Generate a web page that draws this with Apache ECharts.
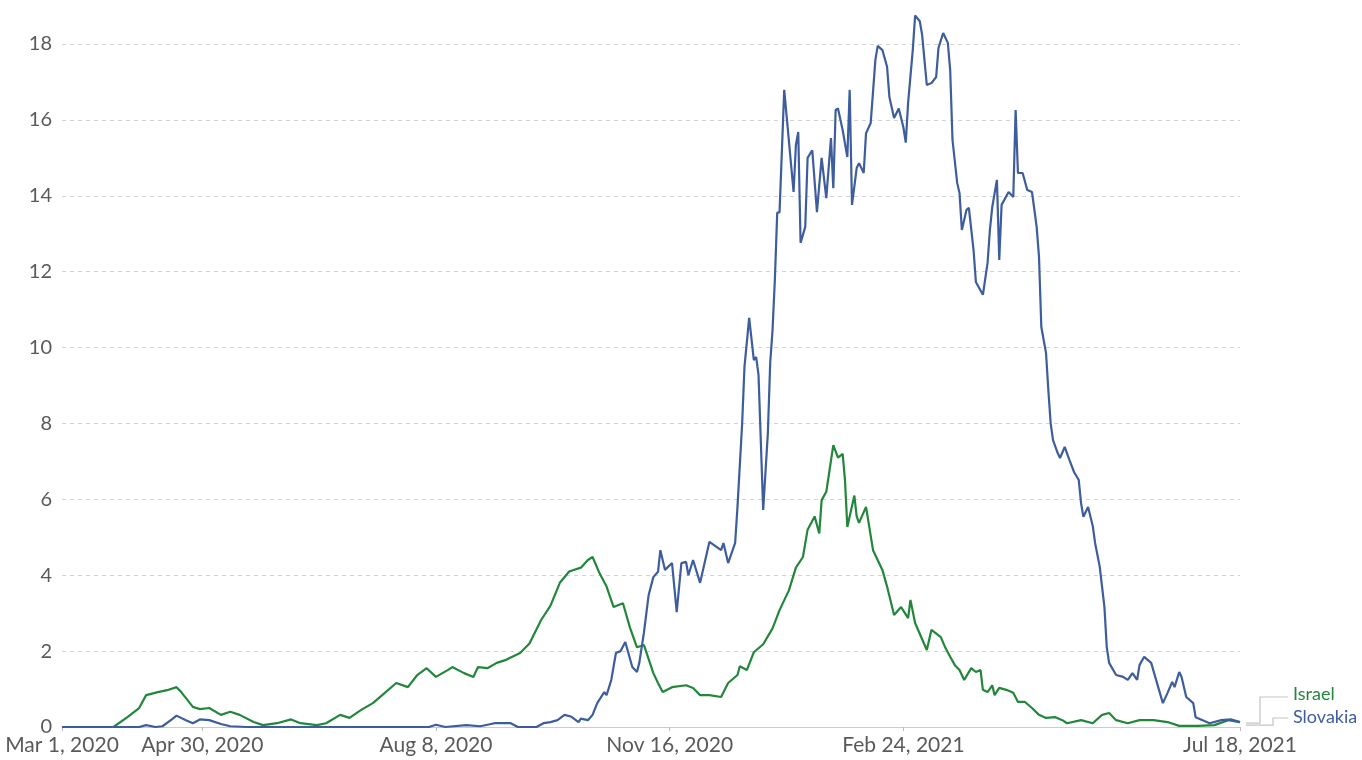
<!DOCTYPE html>
<html lang="en">
<head>
    <meta charset="UTF-8">
    <title>Israel vs Slovakia</title>
    <script src="https://cdn.jsdelivr.net/npm/echarts@6.0.0/dist/echarts.min.js"></script>
    <style>
        html, body { margin: 0; padding: 0; background: #fff; }
        #main { width: 1362px; height: 760px; }
    </style>
</head>
<body>
    <div id="main"></div>
    <script type="text/javascript">
        // days counted from Mar 1, 2020
        const israelDays = [0, 22, 28, 33, 36, 41, 45, 49, 51, 56, 59, 63, 68, 72, 76, 82, 86, 92, 98, 102,
            109, 113, 119, 123, 128, 133, 137, 143, 148, 152, 156, 160, 165, 167, 172, 176, 178, 182, 186, 190,
            196, 200, 205, 209, 213, 217, 222, 225, 227, 230, 233, 236, 240, 243, 246, 249, 253, 255, 257, 261,
            267, 270, 273, 277, 282, 285, 289, 290, 293, 296, 300, 304, 307, 311, 314, 317, 319, 322, 324, 325,
            327, 330, 332, 334, 335, 336, 339, 340, 341, 344, 347, 351, 353, 356, 359, 362, 363, 365, 370, 372,
            376, 378, 380, 382, 384, 386, 389, 391, 393, 394, 396, 398, 399, 401, 404, 407, 409, 412, 415, 418,
            421, 425, 428, 430, 436, 441, 445, 448, 451, 456, 461, 467, 473, 478, 486, 493, 499, 504];
        const israelValues = [0, 0, 0.26, 0.5, 0.84, 0.92, 0.97, 1.05, 0.92, 0.53, 0.47, 0.5, 0.32, 0.4, 0.32, 0.13, 0.05, 0.1, 0.2, 0.1,
            0.05, 0.1, 0.32, 0.24, 0.45, 0.63, 0.84, 1.16, 1.05, 1.37, 1.55, 1.32, 1.5, 1.58, 1.42, 1.32, 1.58, 1.55, 1.69, 1.77,
            1.95, 2.2, 2.82, 3.2, 3.8, 4.1, 4.2, 4.4, 4.48, 4.05, 3.7, 3.16, 3.26, 2.62, 2.1, 2.16, 1.42, 1.16, 0.92, 1.05,
            1.1, 1.03, 0.84, 0.84, 0.79, 1.16, 1.37, 1.6, 1.5, 1.97, 2.18, 2.6, 3.08, 3.6, 4.2, 4.48, 5.2, 5.55, 5.1, 5.98,
            6.2, 7.43, 7.1, 7.2, 6.5, 5.27, 6.1, 5.55, 5.38, 5.8, 4.66, 4.14, 3.7, 2.95, 3.16, 2.87, 3.35, 2.74, 2.03, 2.56,
            2.37, 2.08, 1.85, 1.63, 1.5, 1.24, 1.55, 1.45, 1.5, 0.98, 0.92, 1.1, 0.84, 1.03, 0.98, 0.9, 0.66, 0.66, 0.5, 0.32,
            0.24, 0.26, 0.18, 0.1, 0.18, 0.1, 0.32, 0.37, 0.18, 0.1, 0.18, 0.18, 0.13, 0.03, 0.03, 0.05, 0.18, 0.13];

        const slovakiaDays = [0, 33, 36, 40, 43, 47, 49, 53, 56, 59, 63, 68, 72, 79, 157, 160, 164, 173, 179, 185,
            192, 195, 203, 206, 209, 212, 215, 218, 221, 222, 225, 227, 229, 232, 233, 235, 237, 239, 241, 244,
            246, 247, 249, 251, 253, 255, 256, 258, 261, 263, 265, 267, 268, 270, 273, 277, 282, 283, 285, 288,
            289, 291, 292, 294, 296, 297, 298, 300, 302, 303, 304, 305, 306, 307, 309, 313, 314, 315, 316, 318,
            319, 321, 323, 325, 327, 329, 330, 331, 332, 334, 336, 337, 338, 340, 341, 343, 344, 346, 348, 349,
            351, 353, 354, 356, 358, 360, 361, 362, 364, 365, 367, 368, 370, 372, 374, 375, 377, 379, 380, 381,
            383, 384, 385, 387, 388, 390, 391, 394, 396, 397, 398, 400, 401, 402, 405, 407, 408, 409, 411, 413,
            415, 417, 418, 419, 421, 422, 423, 424, 426, 427, 429, 431, 433, 435, 436, 437, 439, 441, 442, 444,
            446, 447, 448, 451, 454, 456, 458, 460, 461, 463, 466, 469, 471, 473, 475, 476, 478, 479, 481, 484,
            485, 488, 491, 496, 500, 504];
        const slovakiaValues = [0, 0, 0.05, 0, 0.02, 0.2, 0.3, 0.18, 0.1, 0.2, 0.18, 0.08, 0.02, 0, 0, 0.06, 0, 0.05, 0.02, 0.1,
            0.1, 0, 0, 0.1, 0.13, 0.18, 0.32, 0.27, 0.13, 0.22, 0.18, 0.32, 0.63, 0.92, 0.84, 1.24, 1.95, 2.0, 2.24, 1.58,
            1.45, 1.69, 2.5, 3.48, 3.95, 4.09, 4.66, 4.14, 4.32, 3.03, 4.32, 4.35, 4.0, 4.4, 3.8, 4.88, 4.66, 4.85, 4.32, 4.85,
            5.8, 8.0, 9.5, 10.78, 9.67, 9.75, 9.28, 5.72, 7.75, 9.6, 10.46, 11.8, 13.55, 13.57, 16.79, 14.1, 15.34, 15.68, 12.76, 13.18,
            15.0, 15.2, 13.57, 15.0, 13.94, 15.52, 14.2, 16.26, 16.3, 15.73, 15.02, 16.79, 13.76, 14.73, 14.86, 14.6, 15.65, 15.92, 17.58, 17.95,
            17.84, 17.4, 16.6, 16.05, 16.3, 15.8, 15.4, 16.45, 17.84, 18.75, 18.6, 18.24, 16.92, 16.97, 17.13, 17.9, 18.29, 18.03, 17.32, 15.47,
            14.34, 14.07, 13.1, 13.63, 13.68, 12.57, 11.73, 11.39, 12.23, 13.1, 13.7, 14.42, 12.31, 13.76, 14.1, 13.97, 16.26, 14.6, 14.6, 14.15,
            14.1, 13.18, 12.4, 10.54, 9.86, 8.88, 8.0, 7.56, 7.22, 7.09, 7.38, 7.04, 6.72, 6.51, 5.9, 5.54, 5.8, 5.3, 4.85, 4.22,
            3.16, 2.1, 1.69, 1.37, 1.32, 1.24, 1.42, 1.24, 1.63, 1.85, 1.69, 1.05, 0.63, 0.9, 1.19, 1.05, 1.45, 1.32, 0.79, 0.63,
            0.26, 0.18, 0.1, 0.18, 0.2, 0.13];

        const tickDays = [0, 60, 160, 260, 360, 504];
        const months = ['Jan', 'Feb', 'Mar', 'Apr', 'May', 'Jun', 'Jul', 'Aug', 'Sep', 'Oct', 'Nov', 'Dec'];

        const start = Date.UTC(2020, 2, 1);
        const DAY = 86400000;
        const pairs = (days, vals) => days.map((d, i) => [d, vals[i]]);

        function fmtDay(d) {
            const dt = new Date(start + d * DAY);
            return months[dt.getUTCMonth()] + ' ' + dt.getUTCDate() + ', ' + dt.getUTCFullYear();
        }

        const green = '#22873a';
        const blue = '#3d5d9c';
        const grey = '#5a5a5a';

        var chart = echarts.init(document.getElementById('main'));
        var option = {
            animation: false,
            grid: { left: 62, right: 122, top: 44, bottom: 33 },
            xAxis: {
                type: 'value',
                min: 0,
                max: 504,
                axisLine: { lineStyle: { color: '#cccccc', width: 1 } },
                axisTick: { show: true, length: 4, customValues: tickDays, lineStyle: { color: '#bbbbbb' } },
                axisLabel: {
                    customValues: tickDays,
                    formatter: v => fmtDay(v),
                    color: grey,
                    fontFamily: 'Lato',
                    fontSize: 21,
                    margin: 8
                },
                splitLine: { show: false }
            },
            yAxis: {
                type: 'value',
                min: 0,
                max: 18,
                interval: 2,
                axisLine: { show: false },
                axisTick: { show: false },
                axisLabel: { color: grey, fontFamily: 'Lato', fontSize: 20, margin: 10 },
                splitLine: { lineStyle: { color: '#d3d3d3', type: [4, 4], width: 1 } }
            },
            series: [
                {
                    name: 'Israel',
                    type: 'line',
                    data: pairs(israelDays, israelValues),
                    showSymbol: false,
                    clip: false,
                    lineStyle: { color: green, width: 2.2 },
                    itemStyle: { color: green }
                },
                {
                    name: 'Slovakia',
                    type: 'line',
                    data: pairs(slovakiaDays, slovakiaValues),
                    showSymbol: false,
                    clip: false,
                    lineStyle: { color: blue, width: 2.2 },
                    itemStyle: { color: blue }
                }
            ]
        };
        chart.setOption(option);

        // end labels with connector lines
        const endIsr = chart.convertToPixel({ gridIndex: 0 }, [504, israelValues[israelValues.length - 1]]);
        const endSvk = chart.convertToPixel({ gridIndex: 0 }, [504, slovakiaValues[slovakiaValues.length - 1]]);
        const lx = endIsr[0];
        chart.setOption({
            graphic: [
                { type: 'polyline', shape: { points: [[lx + 6, endIsr[1] + 1], [lx + 20, endIsr[1] + 1], [lx + 20, 697], [lx + 48, 697]] },
                  style: { stroke: '#c4c4c4', lineWidth: 1.2, fill: null } },
                { type: 'polyline', shape: { points: [[lx + 6, endSvk[1] + 3], [lx + 33, endSvk[1] + 3], [lx + 33, 718], [lx + 48, 718]] },
                  style: { stroke: '#c4c4c4', lineWidth: 1.2, fill: null } },
                { type: 'text', left: lx + 53, top: 685,
                  style: { text: 'Israel', fill: green, font: '18px Lato' } },
                { type: 'text', left: lx + 53, top: 708,
                  style: { text: 'Slovakia', fill: blue, font: '18px Lato' } }
            ]
        });
    </script>
</body>
</html>
